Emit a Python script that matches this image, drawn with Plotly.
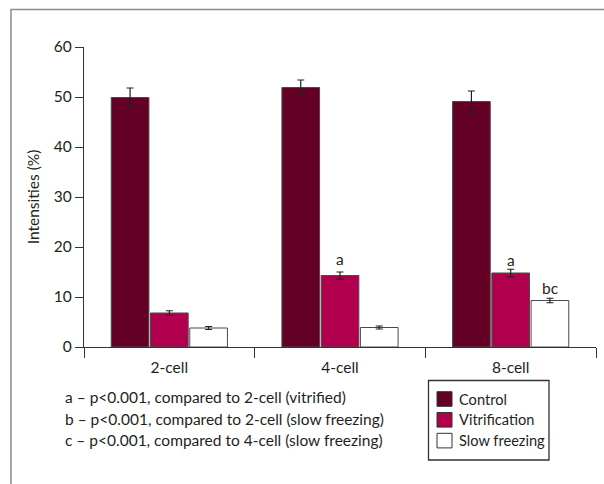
import plotly.graph_objects as go

categories = ["2-cell", "4-cell", "8-cell"]
series_names = ["Control", "Vitrification", "Slow freezing"]
control = [49.9, 51.9, 49.1]
control_err = [1.9, 1.5, 2.1]
vitrification = [6.8, 14.3, 14.8]
vitrification_err = [0.45, 0.7, 0.75]
slow_freezing = [3.8, 3.9, 9.3]
slow_freezing_err = [0.3, 0.3, 0.45]
y_ticks = [0, 10, 20, 30, 40, 50, 60]

# significance letters: (category, series index, label, value position)
sig_cats = ["4-cell", "8-cell", "8-cell"]
sig_series = [1, 1, 2]
sig_labels = ["a", "a", "bc"]
sig_y = [17.6, 17.4, 11.8]

footnotes = [
    "a – p<0.001, compared to 2-cell (vitrified)",
    "b – p<0.001, compared to 2-cell (slow freezing)",
    "c – p<0.001, compared to 4-cell (slow freezing)",
]

FONT = "Lato, sans-serif"
FS = 15.5
FS_LEG = 14.6
TXT = "#231f20"
colors = ["#640026", "#b0004e", "#ffffff"]
values = [control, vitrification, slow_freezing]
errors = [control_err, vitrification_err, slow_freezing_err]

fig = go.Figure()
for name, vals, errs, col in zip(series_names, values, errors, colors):
    fig.add_trace(go.Bar(
        name=name, x=categories, y=vals, showlegend=False,
        marker=dict(color=col, line=dict(color="#4a4a4a", width=1)),
        error_y=dict(type="data", array=errs, visible=True,
                     color=TXT, thickness=1.2, width=3.5),
    ))

slot_px = 39.5
annotations = []
for c, s, lab, yv in zip(sig_cats, sig_series, sig_labels, sig_y):
    annotations.append(dict(
        x=c, y=yv, xref="x", yref="y", text=lab, showarrow=False,
        xshift=(s - 1) * slot_px, font=dict(family=FONT, size=FS, color=TXT),
        yanchor="middle", xanchor="center",
    ))

plot_top, plot_bot, plot_l, plot_r = 47, 347, 84, 596
def py(ypx):
    return (plot_bot - ypx) / (plot_bot - plot_top)
def px(xpx):
    return (xpx - plot_l) / (plot_r - plot_l)

for i, line in enumerate(footnotes):
    annotations.append(dict(
        x=px(63), y=py(397 + i * 21.5), xref="paper", yref="paper",
        text=line, showarrow=False, xanchor="left", yanchor="middle",
        font=dict(family=FONT, size=FS, color=TXT),
    ))

shapes = [dict(type="rect", xref="paper", yref="paper",
               x0=px(11), x1=1.2, y0=-0.6, y1=py(9.5),
               line=dict(color="#8a8a8a", width=1.5), fillcolor="rgba(0,0,0,0)",
               layer="below")]

# legend box (drawn manually to match the compact original layout)
shapes.append(dict(type="rect", xref="paper", yref="paper",
                   x0=px(428.5), x1=px(549), y0=py(460), y1=py(380.5),
                   line=dict(color="#333333", width=1.3), fillcolor="white"))
for i, (name, col) in enumerate(zip(series_names, colors)):
    cy = 399 + i * 20.8
    shapes.append(dict(type="rect", xref="paper", yref="paper",
                       x0=px(437), x1=px(452), y0=py(cy + 7.3), y1=py(cy - 7.3),
                       line=dict(color="#333333", width=1), fillcolor=col))
    annotations.append(dict(
        x=px(457), y=py(cy), xref="paper", yref="paper", text=name,
        showarrow=False, xanchor="left", yanchor="middle",
        font=dict(family=FONT, size=FS_LEG, color=TXT),
    ))

fig.update_layout(
    width=604, height=484,
    margin=dict(l=plot_l, r=604 - plot_r, t=plot_top, b=484 - plot_bot, autoexpand=False),
    paper_bgcolor="white", plot_bgcolor="white",
    barmode="group", bargap=0.31, bargroupgap=0.04,
    font=dict(family=FONT, size=FS, color=TXT),
    showlegend=False,
    annotations=annotations,
    shapes=shapes,
)
fig.update_xaxes(
    showline=True, linecolor="#333333", linewidth=1.3,
    ticks="outside", tickson="boundaries", ticklen=10, tickcolor="#333333", tickwidth=1.3,
    ticklabelstandoff=6,
    showgrid=False, zeroline=False, tickfont=dict(family=FONT, size=FS, color=TXT),
)
fig.update_yaxes(
    range=[0, 60], tickvals=y_ticks, showline=True, linecolor="#333333", linewidth=1.3,
    ticks="outside", ticklen=8, tickcolor="#333333", tickwidth=1.3,
    showgrid=False, zeroline=False, tickfont=dict(family=FONT, size=FS, color=TXT),
    title=dict(text="Intensities (%)", font=dict(family=FONT, size=FS, color=TXT), standoff=10),
)

fig.write_html("out.html", config={"displayModeBar": False},
               post_script="document.body.style.margin='0';document.body.style.padding='0';")
